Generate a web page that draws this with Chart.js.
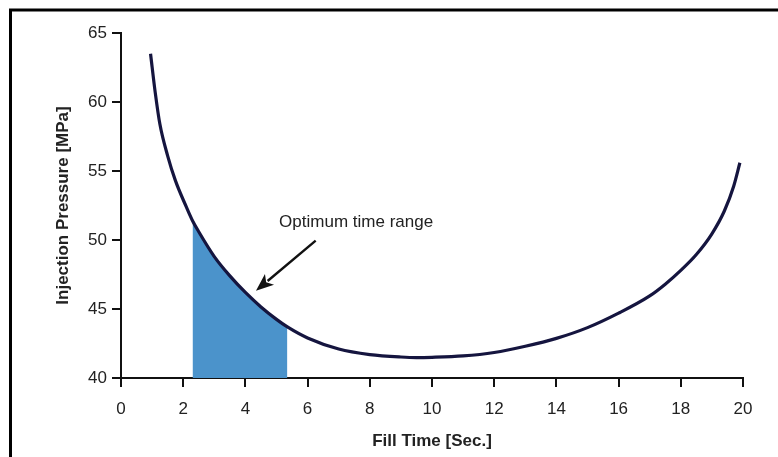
<!DOCTYPE html>
<html>
<head>
<meta charset="utf-8">
<title>Injection Pressure vs Fill Time</title>
<script src="https://cdn.jsdelivr.net/npm/chart.js@4.4.1/dist/chart.umd.min.js"></script>
<style>
  html, body { margin: 0; padding: 0; background: #fff; }
  #wrap { width: 778px; height: 457px; }
</style>
</head>
<body>
<div id="wrap"><canvas id="chartLine"></canvas></div>
<script>
// Data
const fillTime = [0.95, 1.1, 1.25, 1.5, 1.75, 2.1, 2.3, 2.5, 3, 3.5, 4, 4.5, 5, 5.35, 6, 7, 8, 9, 9.5, 10, 11, 12, 13, 14, 15, 16, 17, 17.5, 18, 18.5, 19, 19.4, 19.7, 19.9];
const pressure = [63.5, 60.7, 58.4, 56.1, 54.3, 52.4, 51.4, 50.6, 48.8, 47.4, 46.2, 45.15, 44.25, 43.7, 42.9, 42.1, 41.7, 41.52, 41.48, 41.5, 41.6, 41.85, 42.3, 42.87, 43.65, 44.7, 45.95, 46.8, 47.8, 48.95, 50.45, 52.1, 53.9, 55.6];

// Optimum range (shaded)
const optimumStart = 2.3;
const optimumEnd = 5.35;

// Axes
const xTicks = [0, 2, 4, 6, 8, 10, 12, 14, 16, 18, 20];
const yTicks = [40, 45, 50, 55, 60, 65];

// Annotation text and arrow, in data units
const noteText = 'Optimum time range';
const notePos = { x: 7.56, y: 51.3 };
const arrowFrom = { x: 6.26, y: 49.95 };
const arrowTo = { x: 4.34, y: 46.32 };

const curvePoints = fillTime.map((t, i) => ({ x: t, y: pressure[i] }));
const optimumPoints = curvePoints.filter(p => p.x >= optimumStart && p.x <= optimumEnd);

const FONT = "'Liberation Sans Narrow', 'Liberation Sans', Arial, sans-serif";

// Annotation + frame plugin
const notePlugin = {
  id: 'note',
  afterDatasetsDraw(chart) {
    const ctx = chart.ctx;
    const xs = chart.scales.x, ys = chart.scales.y;
    ctx.save();
    ctx.font = '17px ' + FONT;
    ctx.fillStyle = '#222';
    ctx.textAlign = 'center';
    ctx.textBaseline = 'middle';
    ctx.fillText(noteText, xs.getPixelForValue(notePos.x), ys.getPixelForValue(notePos.y));

    const x1 = xs.getPixelForValue(arrowFrom.x), y1 = ys.getPixelForValue(arrowFrom.y);
    const x2 = xs.getPixelForValue(arrowTo.x), y2 = ys.getPixelForValue(arrowTo.y);
    const ang = Math.atan2(y2 - y1, x2 - x1);
    const head = 19;
    ctx.strokeStyle = '#111';
    ctx.lineWidth = 2.4;
    ctx.beginPath();
    ctx.moveTo(x1, y1);
    ctx.lineTo(x2 - Math.cos(ang) * head * 0.8, y2 - Math.sin(ang) * head * 0.8);
    ctx.stroke();
    ctx.fillStyle = '#111';
    ctx.beginPath();
    ctx.moveTo(x2, y2);
    ctx.lineTo(x2 - head * Math.cos(ang - 0.38), y2 - head * Math.sin(ang - 0.38));
    ctx.lineTo(x2 - head * 0.7 * Math.cos(ang), y2 - head * 0.7 * Math.sin(ang));
    ctx.lineTo(x2 - head * Math.cos(ang + 0.38), y2 - head * Math.sin(ang + 0.38));
    ctx.closePath();
    ctx.fill();

    // black frame on top and left edge
    ctx.strokeStyle = '#000';
    ctx.lineWidth = 3;
    ctx.beginPath();
    ctx.moveTo(10.5, 457);
    ctx.lineTo(10.5, 10);
    ctx.lineTo(778, 10);
    ctx.stroke();
    ctx.restore();
  }
};

const config = {
  type: 'line',
  data: {
    datasets: [
      {
        label: 'Injection pressure',
        data: curvePoints,
        borderColor: '#15153f',
        borderWidth: 3.2,
        pointRadius: 0,
        cubicInterpolationMode: 'monotone',
        fill: false
      },
      {
        label: 'Optimum time range',
        data: optimumPoints,
        borderWidth: 0,
        borderColor: 'rgba(0,0,0,0)',
        backgroundColor: '#4b93cb',
        pointRadius: 0,
        cubicInterpolationMode: 'monotone',
        fill: 'start'
      }
    ]
  },
  options: {
    responsive: false,
    animation: false,
    layout: { padding: { top: 33, right: 35, left: 0, bottom: 0 } },
    plugins: {
      legend: { display: false },
      tooltip: { enabled: false }
    },
    scales: {
      x: {
        type: 'linear',
        min: 0,
        max: 20,
        afterBuildTicks: s => { s.ticks = xTicks.map(v => ({ value: v })); },
        afterFit: s => { s.height = 79; },
        grid: { drawOnChartArea: false, tickLength: 9, color: '#111', lineWidth: 2 },
        border: { color: '#111', width: 2 },
        ticks: { color: '#222', font: { family: FONT, size: 17 }, padding: 12 },
        title: {
          display: true,
          text: 'Fill Time [Sec.]',
          color: '#222',
          font: { family: FONT, size: 17, weight: 'bold' },
          padding: { top: 0, bottom: 5 }
        }
      },
      y: {
        min: 40,
        max: 65,
        afterBuildTicks: s => { s.ticks = yTicks.map(v => ({ value: v })); },
        afterFit: s => { s.width = 121; },
        grid: { drawOnChartArea: false, tickLength: 9, color: '#111', lineWidth: 2 },
        border: { color: '#111', width: 2 },
        ticks: { color: '#222', font: { family: FONT, size: 17 }, padding: 5 },
        title: {
          display: true,
          text: 'Injection Pressure [MPa]',
          color: '#222',
          font: { family: FONT, size: 17, weight: 'bold' },
          padding: { top: 53, bottom: 0 }
        }
      }
    }
  },
  plugins: [notePlugin]
};

const cnv = document.getElementById('chartLine');
cnv.width = 778;
cnv.height = 457;
new Chart(cnv, config);
</script>
</body>
</html>
